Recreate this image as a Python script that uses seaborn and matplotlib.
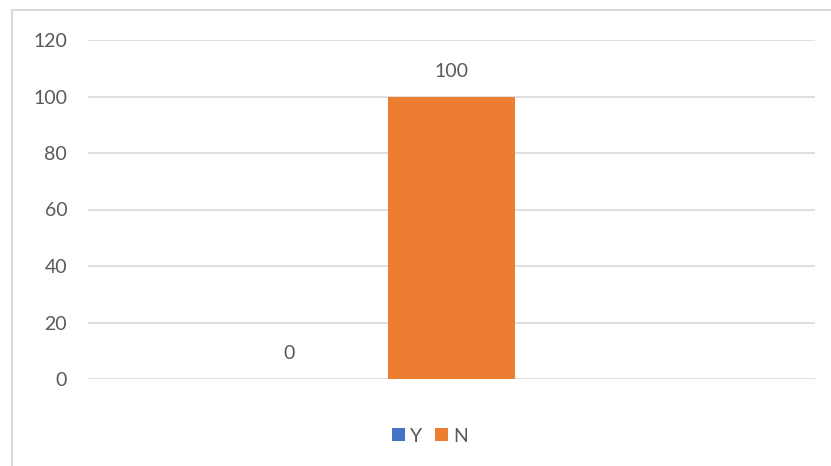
import matplotlib
matplotlib.use("Agg")
import matplotlib.pyplot as plt
import seaborn as sns
import pandas as pd
from matplotlib.patches import Rectangle, Patch

series = ["Y", "N", "_pad"]
values = [0, 100, 0]
category = ["", "", ""]
labeled = ["Y", "N"]
colors = {"Y": "#4472C4", "N": "#ED7D31", "_pad": "#FFFFFF"}
yticks = [0, 20, 40, 60, 80, 100, 120]

df = pd.DataFrame({"cat": category, "series": series, "value": values})

sns.set_theme(style="white")
plt.rcParams["font.family"] = ["Lato", "DejaVu Sans"]
text_color = "#595959"
grid_color = "#D9D9D9"
fs = 14

fig = plt.figure(figsize=(8.31, 4.66), dpi=100)
W, H = 831, 466
ax = fig.add_axes([88 / W, 1 - 379 / H, (815 - 88) / W, (379 - 40) / H])

sns.barplot(data=df, x="cat", y="value", hue="series", hue_order=series,
            palette=colors, saturation=1, width=486 / 727, gap=0.222,
            linewidth=0, legend=False, ax=ax)

ax.set_xlim(-0.5, 0.5)
ax.set_ylim(0, 120)
ax.set_yticks(yticks)
ax.set_yticklabels([str(t) for t in yticks], fontsize=fs, color=text_color)
ax.tick_params(axis="y", length=0, pad=15)
ax.set_xticks([])
ax.set_xlabel("")
ax.set_ylabel("")
ax.yaxis.grid(True, color=grid_color, linewidth=1.2)
ax.set_axisbelow(True)
for s in ax.spines.values():
    s.set_visible(False)

for cont, name in zip(ax.containers, series):
    if name in labeled:
        ax.bar_label(cont, labels=[f"{v:g}" for v in cont.datavalues],
                     padding=12, fontsize=fs, color=text_color)

handles = [Patch(facecolor=colors[n], edgecolor="none") for n in labeled]
fig.legend(handles, labeled, loc="center", bbox_to_anchor=(430 / W, 1 - 436 / H),
           ncol=2, frameon=False, fontsize=fs, labelcolor=text_color,
           handlelength=0.65, handleheight=0.65, handletextpad=0.25,
           columnspacing=0.7)

fig.patches.append(Rectangle((12 / W, -0.1), 1.2, 1 - 10 / H + 0.1,
                             transform=fig.transFigure, fill=False,
                             edgecolor=grid_color, linewidth=1.5))

fig.savefig("out.png", dpi=100, facecolor="white")
